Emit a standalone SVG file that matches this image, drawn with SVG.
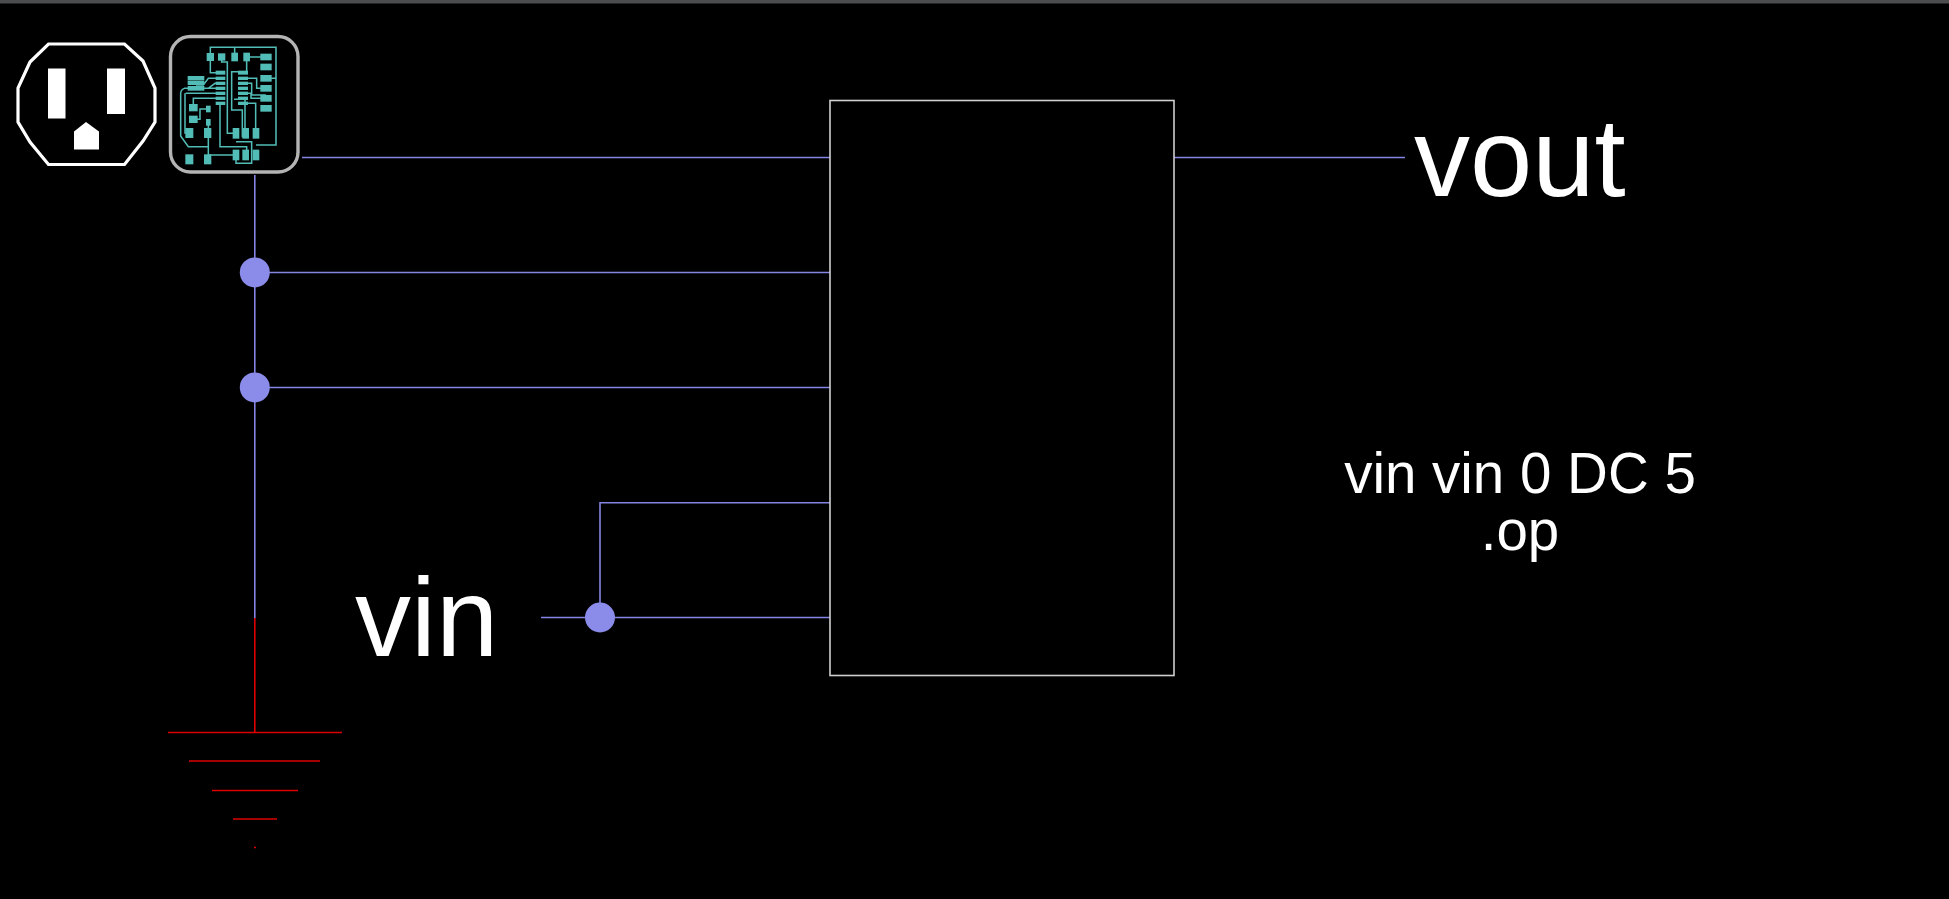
<svg xmlns="http://www.w3.org/2000/svg" width="1949" height="899" viewBox="0 0 1949 899">
<style>
.w{fill:none;stroke:#8484e2;stroke-width:1.6}
.g{fill:none;stroke-width:1.6;stroke:#dc0000}
.d{fill:#8b8bea}
.t{fill:#fff;font-family:"Liberation Sans",Arial,sans-serif}
.p{fill:#52bcb6}
.r{fill:none;stroke:#52bcb6;stroke-width:4.6}
</style>
<rect width="1949" height="899" fill="#000"/>
<rect width="1949" height="3.500" fill="#4b4d4f"/>
<g id="connectors">
<path class="w" d="M302 157.500H830M254.800 175V618M254.800 272.500H830M254.800 387.500H830M541 617.500H830M600 617V502.700H830M1174 157.500H1405"/>
<path class="g" d="M254.800 618V732"/>
<circle class="d" cx="254.800" cy="272.400" r="15"/>
<circle class="d" cx="254.800" cy="387.400" r="15"/>
<circle class="d" cx="600" cy="617.500" r="15"/>
</g>
<g id="ground">
<path class="g" d="M168 732.500H342M189 761H320"/>
<path class="g" d="M212 790.500H298M233 819H277M254 847.500H256"/>
</g>
<g id="outlet">
<path d="M48.500 44H124.500L143 61L155 88V122L143 141L124.500 164.500H48.500L30 142L18 122V88L30 62Z" fill="none" stroke="#fff" stroke-width="3.200"/>
<rect x="48" y="68.500" width="17.500" height="50" fill="#fff"/>
<rect x="107" y="68.500" width="18" height="45.500" fill="#fff"/>
<path d="M74 131.500L86 122L99 131.500V149.500H74Z" fill="#fff"/>
</g>
<g id="pcb">
<rect x="170.500" y="36.500" width="127.500" height="135.500" rx="20" fill="#000" stroke="#b4b4b4" stroke-width="3.400"/>
<g transform="translate(165 30) scale(.3333)">
<path class="r" d="M136 81V52H333V345H273M209 81V52M136 81V128H165M170 81V96H187V310H213M245 81H303M245 81V125H200V240H232V322M333 145H303M220 145H275V175H303M220 160H260V195H303M220 190H258V205H303M220 220H272V310M207 208H240V320M153 145H130L115 165H93M93 175H130L150 160H175M153 175H58Q47 180 47 190V318L70 350H128M60 190V309H73M165 205H85V233M165 190H62M130 237H105V268H85M130 277V388M165 225V350H245V378M213 375H128M213 375V400H260V335H213"/>
<g class="p">
<rect x="125" y="69" width="22" height="24"/><rect x="159" y="70" width="22" height="22"/><rect x="199" y="68" width="20" height="26"/><rect x="235" y="68" width="20" height="26"/>
<rect x="286" y="71" width="34" height="20"/><rect x="286" y="101" width="34" height="20"/><rect x="286" y="135" width="34" height="20"/><rect x="286" y="165" width="34" height="20"/><rect x="286" y="195" width="34" height="20"/><rect x="286" y="225" width="34" height="20"/>
<rect x="68" y="138" width="50" height="13"/><rect x="68" y="152" width="50" height="13"/><rect x="68" y="168" width="50" height="14"/>
<rect x="152" y="122" width="29" height="12"/><rect x="152" y="140" width="29" height="10"/><rect x="152" y="155" width="29" height="10"/><rect x="152" y="170" width="29" height="10"/><rect x="152" y="185" width="29" height="10"/><rect x="152" y="200" width="29" height="10"/><rect x="152" y="215" width="29" height="10"/>
<rect x="219" y="122" width="30" height="12"/><rect x="219" y="140" width="30" height="10"/><rect x="219" y="155" width="30" height="10"/><rect x="219" y="170" width="30" height="10"/><rect x="219" y="185" width="30" height="10"/><rect x="219" y="200" width="30" height="10"/><rect x="219" y="215" width="30" height="10"/>
<rect x="72" y="222" width="26" height="22"/><rect x="72" y="257" width="26" height="22"/><rect x="123" y="227" width="14" height="20"/><rect x="123" y="267" width="14" height="20"/>
<rect x="61" y="294" width="24" height="30"/><rect x="117" y="294" width="22" height="30"/><rect x="203" y="294" width="20" height="32"/><rect x="232" y="294" width="20" height="32"/><rect x="263" y="294" width="20" height="32"/>
<rect x="203" y="359" width="20" height="32"/><rect x="232" y="359" width="20" height="32"/><rect x="263" y="359" width="20" height="32"/><rect x="61" y="373" width="24" height="30"/><rect x="117" y="373" width="22" height="30"/>
</g>
</g>
</g>
<g id="block">
<rect x="830" y="100.500" width="344" height="575" fill="none" stroke="#cfcfcf" stroke-width="1.600"/>
</g>
<g id="labels">
<text class="t" x="355" y="656" font-size="112">vin</text>
<text class="t" x="1414" y="196" font-size="112">vout</text>
<text class="t" x="1520" y="493" font-size="56.500" text-anchor="middle">vin vin 0 DC 5</text>
<text class="t" x="1520" y="550" font-size="56.500" text-anchor="middle">.op</text>
</g>
</svg>
